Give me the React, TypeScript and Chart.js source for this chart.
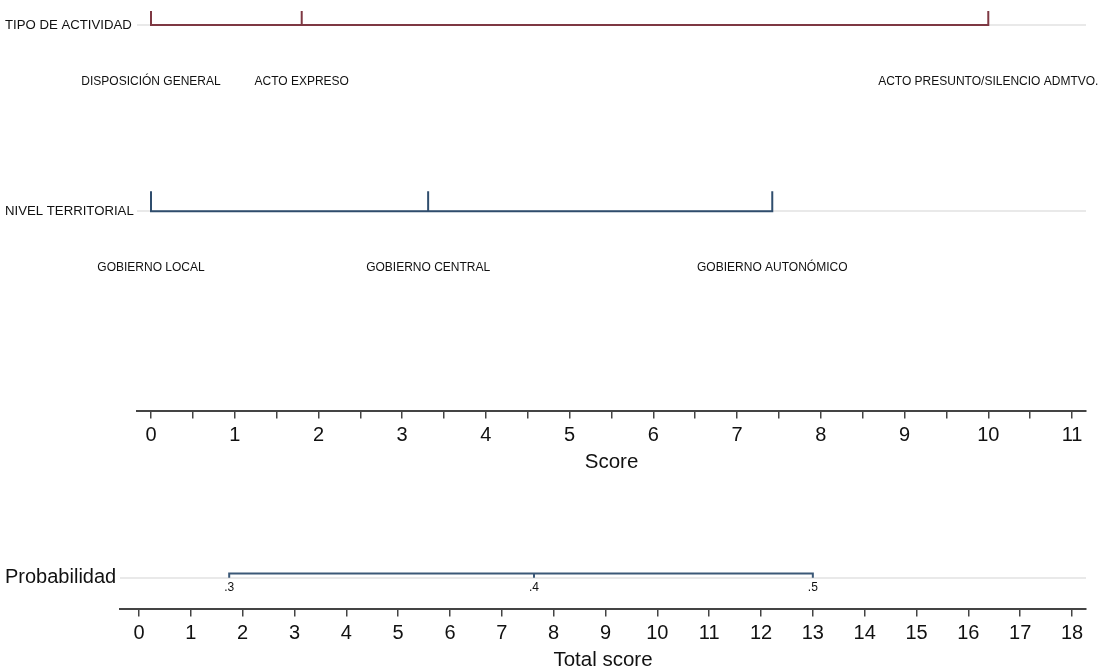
import React, { useEffect, useRef } from "react";
import { Chart, registerables } from "chart.js";

Chart.register(...registerables);

const FONT = "'Liberation Sans', Arial, Helvetica, sans-serif";

// ---- data ----
const ROW_LABELS = ["TIPO DE ACTIVIDAD", "NIVEL TERRITORIAL"];
const TIPO_CATEGORIES = ["DISPOSICIÓN GENERAL", "ACTO EXPRESO", "ACTO PRESUNTO/SILENCIO ADMTVO."];
const TIPO_SCORES = [0, 1.8, 10];
const NIVEL_CATEGORIES = ["GOBIERNO LOCAL", "GOBIERNO CENTRAL", "GOBIERNO AUTONÓMICO"];
const NIVEL_SCORES = [0, 3.31, 7.42];
const SCORE_TICKS = [0, 0.5, 1, 1.5, 2, 2.5, 3, 3.5, 4, 4.5, 5, 5.5, 6, 6.5, 7, 7.5, 8, 8.5, 9, 9.5, 10, 10.5, 11];
const PROB_ROW_LABEL = ["Probabilidad"];
const PROB_VALUES = [".3", ".4", ".5"];
const PROB_TOTAL_SCORES = [1.74, 7.62, 13.0];
const TOTAL_TICKS = [0, 1, 2, 3, 4, 5, 6, 7, 8, 9, 10, 11, 12, 13, 14, 15, 16, 17, 18];

// ---- layout (not data) ----
const TOP_ROWS = [0, 1];
const TOP_Y = { min: -0.0749, max: 2.0695 };
const TOP_TICK = 0.107;
const TOP_LABEL_OFF = 0.305;
const BOT_ROWS = [0];
const BOT_Y = { min: -2.58, max: 1 };
const BOT_TICK = 0.13;
const BOT_LABEL_OFF = 0.325;

const COLOR_TIPO = "#7e3843";
const COLOR_NIVEL = "#2f4d6d";
const COLOR_PROB = "#3b5877";
const AXIS_COLOR = "#444444";
const GRID_ROW = "#e9e9e9";

function bracket(xs: number[], base: number, tip: number) {
  const pts: { x: number; y: number }[] = [];
  xs.forEach((x, i) => {
    if (i === 0) {
      pts.push({ x, y: tip }, { x, y: base });
    } else if (i === xs.length - 1) {
      pts.push({ x, y: base }, { x, y: tip });
    } else {
      pts.push({ x, y: base }, { x, y: tip }, { x, y: base });
    }
  });
  return pts;
}

const textPlugin = {
  id: "pointText",
  afterDatasetsDraw(chart: any, _args: any, opts: any) {
    const items = (opts && opts.items) || [];
    const ctx = chart.ctx;
    const xs = chart.scales.x;
    const ys = chart.scales.y;
    ctx.save();
    ctx.fillStyle = opts.color || "#111";
    ctx.font = `${opts.size || 12}px ${FONT}`;
    ctx.textAlign = "center";
    ctx.textBaseline = "middle";
    items.forEach((it: any) => {
      ctx.fillText(it.text, xs.getPixelForValue(it.x), ys.getPixelForValue(it.y));
    });
    ctx.restore();
  },
};

function xAxis(min: number, max: number, ticks: number[], title: string) {
  return {
    type: "linear",
    position: "bottom",
    min,
    max,
    afterBuildTicks: (scale: any) => {
      scale.ticks = ticks.map((v) => ({ value: v }));
    },
    ticks: {
      autoSkip: false,
      maxRotation: 0,
      padding: 7,
      color: "#111",
      font: { family: FONT, size: 20, lineHeight: 1 },
      callback: (v: any) => (Number.isInteger(v) ? String(v) : ""),
    },
    grid: {
      display: true,
      drawOnChartArea: false,
      drawTicks: true,
      tickLength: 8,
      color: AXIS_COLOR,
      lineWidth: 1.5,
    },
    border: { display: true, color: AXIS_COLOR, width: 2 },
    title: {
      display: true,
      text: title,
      color: "#111",
      font: { family: FONT, size: 20.5, lineHeight: 1 },
      padding: { top: 0, bottom: 0 },
    },
  };
}

function yAxis(range: { min: number; max: number }, rows: number[], labels: string[], size: number, width: number) {
  return {
    type: "linear",
    reverse: true,
    min: range.min,
    max: range.max,
    afterBuildTicks: (scale: any) => {
      scale.ticks = rows.map((v) => ({ value: v }));
    },
    afterFit: (scale: any) => {
      scale.width = width;
    },
    ticks: {
      crossAlign: "far",
      color: "#111",
      font: { family: FONT, size },
      callback: (_v: any, i: number) => labels[i],
    },
    grid: {
      display: true,
      drawTicks: false,
      tickLength: 0,
      color: GRID_ROW,
      lineWidth: 2,
    },
    border: { display: false },
  };
}

function lineDs(data: any[], color: string) {
  return {
    data,
    showLine: true,
    borderColor: color,
    backgroundColor: color,
    borderWidth: 2,
    pointRadius: 0,
    pointHoverRadius: 0,
    tension: 0,
    fill: false,
  };
}

function useChart(ref: React.RefObject<HTMLCanvasElement>, build: () => any) {
  useEffect(() => {
    if (!ref.current) return;
    const chart = new Chart(ref.current, build());
    return () => chart.destroy();
  }, []);
}

export default function App() {
  const topRef = useRef<HTMLCanvasElement>(null);
  const botRef = useRef<HTMLCanvasElement>(null);

  useChart(topRef, () => ({
    type: "scatter",
    data: {
      datasets: [
        lineDs(bracket(TIPO_SCORES, TOP_ROWS[0], TOP_ROWS[0] - TOP_TICK), COLOR_TIPO),
        lineDs(bracket(NIVEL_SCORES, TOP_ROWS[1], TOP_ROWS[1] - TOP_TICK), COLOR_NIVEL),
      ],
    },
    options: {
      animation: false,
      responsive: true,
      maintainAspectRatio: false,
      layout: { padding: { left: 5, right: 14, top: 10, bottom: 0 } },
      scales: {
        x: xAxis(-0.1672, 11.167, SCORE_TICKS, "Score"),
        y: yAxis(TOP_Y, TOP_ROWS, ROW_LABELS, 13.2, 132),
      },
      plugins: {
        legend: { display: false },
        tooltip: { enabled: false },
        pointText: {
          size: 12,
          color: "#111",
          items: [
            ...TIPO_CATEGORIES.map((t, i) => ({ text: t, x: TIPO_SCORES[i], y: TOP_ROWS[0] + TOP_LABEL_OFF })),
            ...NIVEL_CATEGORIES.map((t, i) => ({ text: t, x: NIVEL_SCORES[i], y: TOP_ROWS[1] + TOP_LABEL_OFF })),
          ],
        },
      },
    },
    plugins: [textPlugin],
  }));

  useChart(botRef, () => ({
    type: "scatter",
    data: {
      datasets: [lineDs(bracket(PROB_TOTAL_SCORES, BOT_ROWS[0] - BOT_TICK, BOT_ROWS[0]), COLOR_PROB)],
    },
    options: {
      animation: false,
      responsive: true,
      maintainAspectRatio: false,
      layout: { padding: { left: 5, right: 14, top: 20, bottom: 0 } },
      scales: {
        x: xAxis(-0.3666, 18.27, TOTAL_TICKS, "Total score"),
        y: yAxis(BOT_Y, BOT_ROWS, PROB_ROW_LABEL, 20, 115),
      },
      plugins: {
        legend: { display: false },
        tooltip: { enabled: false },
        pointText: {
          size: 12,
          color: "#111",
          items: PROB_VALUES.map((t, i) => ({ text: t, x: PROB_TOTAL_SCORES[i], y: BOT_ROWS[0] + BOT_LABEL_OFF })),
        },
      },
    },
    plugins: [textPlugin],
  }));

  return (
    <div style={{ position: "absolute", top: 0, left: 0, width: 1100, height: 671, background: "#fff" }}>
      <div style={{ position: "absolute", top: 0, left: 0, width: 1100, height: 473 }}>
        <canvas ref={topRef} />
      </div>
      <div style={{ position: "absolute", top: 478, left: 0, width: 1100, height: 193 }}>
        <canvas ref={botRef} />
      </div>
    </div>
  );
}
